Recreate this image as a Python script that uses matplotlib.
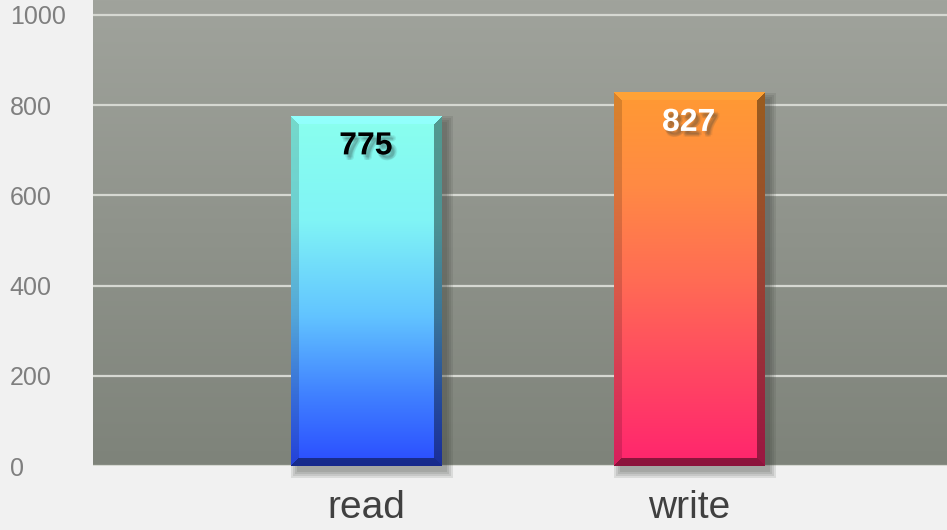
import numpy as np
import matplotlib
matplotlib.use("Agg")
import matplotlib.pyplot as plt
import matplotlib.patheffects as pe
from matplotlib.colors import to_rgb
from matplotlib.patches import Rectangle

categories = ["read", "write"]
values = [775, 827]
yticks = [0, 200, 400, 600, 800, 1000]

# gradient stops (fraction from top of bar, colour)
bar_stops = [
    [(0.0, "#8affee"), (0.30, "#80f4f6"), (0.57, "#62c4ff"), (0.80, "#4080ff"), (1.0, "#2a4cff")],
    [(0.0, "#ff9a33"), (0.25, "#ff8a44"), (0.50, "#ff6c54"), (0.75, "#ff4762"), (1.0, "#ff246e")],
]
label_colors = ["black", "white"]

plt.rcParams["font.family"] = ["Liberation Sans", "DejaVu Sans"]


def gradient_rows(stops, n):
    t = np.linspace(0, 1, n)
    pos = [s[0] for s in stops]
    cols = np.array([to_rgb(s[1]) for s in stops])
    return np.stack([np.interp(t, pos, cols[:, c]) for c in range(3)], axis=1)


fig = plt.figure(figsize=(9.47, 5.30), dpi=100)
fig.patch.set_facecolor("#f1f1f1")
ax = fig.add_axes([93 / 947, 64 / 530, 854 / 947, 466 / 530])
ax.set_xlim(-0.845, 1.8)
ax.set_ylim(0, 1033)

# plot area background
top = np.array(to_rgb("#a0a39c"))
bot = np.array(to_rgb("#7e837a"))
t = np.linspace(0, 1, 256)[:, None, None]
bg = top + (bot - top) * t
ax.imshow(bg, extent=(0, 1, 0, 1), transform=ax.transAxes, aspect="auto", zorder=-5)

ax.grid(axis="y", color="#d6d8d2", lw=1.6, zorder=-1)
ax.set_axisbelow(True)

# blurred text shadow built from a few faint offset copies
text_shadow = [pe.SimplePatchShadow(offset=(ox, oy), shadow_rgbFace="#2a3a3a", alpha=0.09)
               for ox, oy in [(1, -2), (3, -2), (2, -4), (3, -4), (2, -3), (4, -3)]]
text_shadow.append(pe.Normal())

width = 0.465
bevel = 8
for i, v in enumerate(values):
    x0, x1 = i - width / 2, i + width / 2
    p0 = ax.transData.transform((x0, 0))
    p1 = ax.transData.transform((x1, v))
    nx = int(round(p1[0] - p0[0]))
    ny = int(round(p1[1] - p0[1]))

    # soft drop shadow
    dx = 6 / 323
    dy = 6 / 451 * 1000
    for k in range(4):
        grow = k * 2
        ax.add_patch(Rectangle((x0 + dx - grow / 323, -dy - grow / 451 * 1000),
                               (x1 - x0) + 2 * grow / 323, v + 2 * grow / 451 * 1000,
                               facecolor="#3a3d38", edgecolor="none", alpha=0.12,
                               zorder=2, clip_on=False))

    base = gradient_rows(bar_stops[i], ny)[:, None, :] * np.ones((1, nx, 1))
    ii, jj = np.mgrid[0:ny, 0:nx]
    d = np.stack([ii, ny - 1 - ii, jj, nx - 1 - jj])
    side = np.argmin(d, axis=0)
    near = np.min(d, axis=0) < bevel
    factor = np.ones((ny, nx))
    for s, f in zip(range(4), [1.06, 0.55, 0.85, 0.6]):
        factor[near & (side == s)] = f
    img = np.clip(base * factor[..., None], 0, 1)
    ax.imshow(img, extent=(x0, x1, 0, v), aspect="auto", zorder=3)

    ax.annotate(str(v), (i, v), xytext=(0, -30), textcoords="offset pixels",
                ha="center", va="center", fontsize=23, fontweight="bold",
                color=label_colors[i], zorder=5, path_effects=text_shadow)

ax.set_xlim(-0.845, 1.8)
ax.set_ylim(0, 1033)
ax.set_yticks(yticks)
ax.set_xticks([0, 1], categories)
ax.tick_params(axis="y", length=0, labelsize=18, labelcolor="#7f7f7f", pad=60)
for lbl in ax.get_yticklabels():
    lbl.set_ha("left")
ax.tick_params(axis="x", length=0, labelsize=28, labelcolor="#404040", pad=17)
for s in ax.spines.values():
    s.set_visible(False)

fig.savefig("out.png", dpi=100, facecolor=fig.get_facecolor())
